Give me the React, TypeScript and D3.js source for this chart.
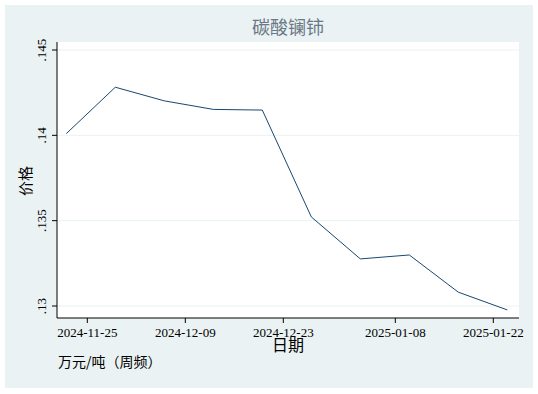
import React from "react";
import * as d3 from "d3";

const dates = ["2024-11-22", "2024-11-29", "2024-12-06", "2024-12-13", "2024-12-20", "2024-12-27", "2025-01-03", "2025-01-10", "2025-01-17", "2025-01-24"];
const prices = [0.1401, 0.14282, 0.14202, 0.14152, 0.14148, 0.13522, 0.13276, 0.13299, 0.13081, 0.12977];
const xTickLabels = ["2024-11-25", "2024-12-09", "2024-12-23", "2025-01-08", "2025-01-22"];
const yTicks = [0.13, 0.135, 0.14, 0.145];
const yTickLabels = [".13", ".135", ".14", ".145"];

const W = 538, H = 394;
const parse = (s: string) => {
  const [y, m, d] = s.split("-").map(Number);
  return new Date(y, m - 1, d);
};
const DAY = 86400000;

export default function App() {
  const plotL = 57, plotR = 519, plotT = 42, plotB = 318;
  const x0 = new Date(parse("2024-11-25").getTime() - 4.33 * DAY);
  const x1 = new Date(parse("2024-11-25").getTime() + 61.67 * DAY);
  const x = d3.scaleTime().domain([x0, x1]).range([plotL, plotR]);
  const y = d3.scaleLinear().domain([0.13, 0.145]).range([306, 50]);
  const pts = dates.map((d, i) => [x(parse(d)), y(prices[i])] as [number, number]);
  const line = d3.line()(pts) || "";
  const serif = "'Liberation Serif', 'DejaVu Serif', serif";
  const cjk = "'Noto Sans CJK SC', sans-serif";
  return (
    <svg width={W} height={H} style={{ position: "absolute", left: 0, top: 0 }}>
      <rect x={0} y={0} width={W} height={H} fill="#ffffff" />
      <rect x={5} y={5} width={528} height={383} fill="#eaf2f3" />
      <rect x={plotL} y={plotT} width={plotR - plotL} height={plotB - plotT} fill="#ffffff" />
      {yTicks.map((t) => (
        <line key={"g" + t} x1={plotL} x2={plotR} y1={y(t)} y2={y(t)} stroke="#eaf2f3" strokeWidth={1} />
      ))}
      <path d={line} fill="none" stroke="#1a476f" strokeWidth={1} />
      <line x1={plotL} x2={plotL} y1={plotT} y2={plotB} stroke="#000" strokeWidth={1} />
      <line x1={plotL} x2={plotR} y1={plotB} y2={plotB} stroke="#000" strokeWidth={1} />
      {yTicks.map((t, i) => (
        <g key={"yt" + t}>
          <line x1={plotL - 5} x2={plotL} y1={y(t)} y2={y(t)} stroke="#000" />
          <text
            transform={`translate(${46},${y(t)}) rotate(-90)`}
            textAnchor="middle"
            fontFamily={serif}
            fontSize={13}
            fill="#000"
          >
            {yTickLabels[i]}
          </text>
        </g>
      ))}
      {xTickLabels.map((t) => (
        <g key={"xt" + t}>
          <line x1={x(parse(t))} x2={x(parse(t))} y1={plotB} y2={plotB + 5} stroke="#000" />
          <text x={x(parse(t))} y={337} textAnchor="middle" fontFamily={serif} fontSize={13} fill="#000">
            {t}
          </text>
        </g>
      ))}
      <text x={288} y={34} textAnchor="middle" fontFamily={cjk} fontSize={18} fill="#6b7886">
        碳酸镧铈
      </text>
      <text x={288} y={351} textAnchor="middle" fontFamily={cjk} fontSize={16} fill="#000">
        日期
      </text>
      <text transform={`translate(${31},${181}) rotate(-90)`} textAnchor="middle" fontFamily={cjk} fontSize={15} fill="#000">
        价格
      </text>
      <text x={58} y={367} fontFamily={cjk} fontSize={14} fill="#000">
        万元/吨（周频）
      </text>
    </svg>
  );
}
